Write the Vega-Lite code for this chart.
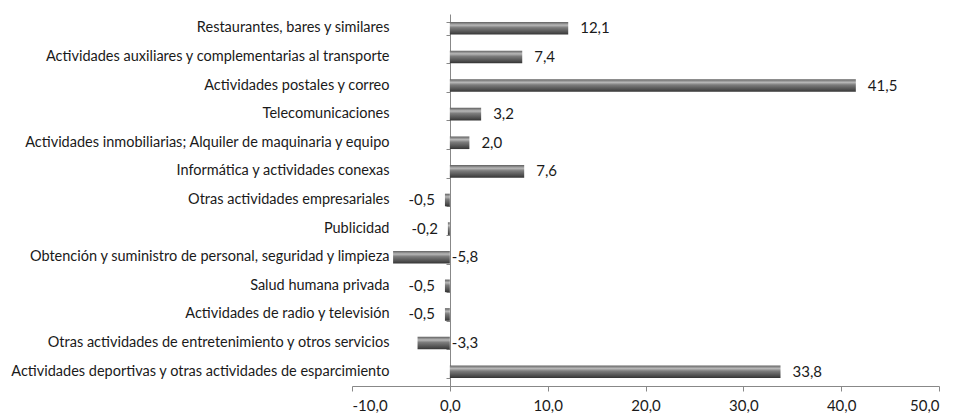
{
  "$schema": "https://vega.github.io/schema/vega-lite/v6.json",
  "autosize": {"type": "none"},
  "width": 587,
  "height": 372,
  "padding": {"left": 352, "top": 14, "right": 22, "bottom": 30},
  "background": "white",
  "config": {
    "view": {"stroke": null},
    "locale": {"number": {"decimal": ",", "thousands": ".", "grouping": [3], "currency": ["", " €"], "minus": "-"}},
    "font": "Lato"
  },
  "data": {
    "values": [
      {"categoria": "Restaurantes, bares y similares", "valor": 12.1},
      {"categoria": "Actividades auxiliares y complementarias al transporte", "valor": 7.4},
      {"categoria": "Actividades postales y correo", "valor": 41.5},
      {"categoria": "Telecomunicaciones", "valor": 3.2},
      {"categoria": "Actividades inmobiliarias; Alquiler de maquinaria y equipo", "valor": 2.0},
      {"categoria": "Informática y actividades conexas", "valor": 7.6},
      {"categoria": "Otras actividades empresariales", "valor": -0.5},
      {"categoria": "Publicidad", "valor": -0.2},
      {"categoria": "Obtención y suministro de personal, seguridad y limpieza", "valor": -5.8},
      {"categoria": "Salud humana privada", "valor": -0.5},
      {"categoria": "Actividades de radio y televisión", "valor": -0.5},
      {"categoria": "Otras actividades de entretenimiento y otros servicios", "valor": -3.3},
      {"categoria": "Actividades deportivas y otras actividades de esparcimiento", "valor": 33.8}
    ]
  },
  "resolve": {"axis": {"y": "independent"}},
  "layer": [
    {
      "mark": {
        "type": "bar",
        "color": {
          "gradient": "linear", "x1": 0, "y1": 0, "x2": 0, "y2": 1,
          "stops": [
            {"offset": 0, "color": "#606060"},
            {"offset": 0.25, "color": "#b8b8b8"},
            {"offset": 0.45, "color": "#7c7c7c"},
            {"offset": 0.85, "color": "#4a4a4a"},
            {"offset": 1, "color": "#333333"}
          ]
        }
      },
      "encoding": {
        "y": {
          "field": "categoria", "type": "nominal", "sort": null,
          "scale": {"paddingInner": 0.56, "paddingOuter": 0.28},
          "axis": {
            "title": null, "orient": "left", "offset": -39, "domain": false, "ticks": false,
            "labelPadding": 2, "labelFontSize": 14.5, "labelColor": "#1a1a1a", "labelFont": "Lato", "labelLimit": 500
          }
        },
        "x": {
          "field": "valor", "type": "quantitative",
          "scale": {"domain": [-10, 50], "nice": false, "zero": false},
          "axis": {
            "title": null, "values": [-10, 0, 10, 20, 30, 40, 50], "format": ".1f", "grid": false,
            "domainColor": "#888888", "tickColor": "#888888", "tickSize": 5, "labelPadding": 7,
            "labelFontSize": 15, "labelColor": "#1a1a1a", "labelFont": "Lato"
          }
        }
      }
    },
    {
      "transform": [{"filter": "datum.valor > -1"}],
      "mark": {"type": "text", "align": {"expr": "datum.valor >= 0 ? 'left' : 'right'"}, "dx": {"expr": "datum.valor >= 0 ? 12 : -10"}, "fontSize": 15, "color": "#1a1a1a", "font": "Lato", "baseline": "middle"},
      "encoding": {
        "y": {
          "field": "categoria", "type": "nominal", "sort": null,
          "axis": {
            "title": null, "orient": "left", "offset": -98, "labels": false, "domain": true,
            "domainColor": "#888888", "ticks": true, "tickBand": "extent", "tickSize": 4, "tickColor": "#888888"
          }
        },
        "x": {"field": "valor", "type": "quantitative"},
        "text": {"field": "valor", "type": "quantitative", "format": ".1f"}
      }
    },
    {
      "transform": [{"filter": "datum.valor <= -1"}],
      "mark": {"type": "text", "align": "left", "dx": 2, "fontSize": 15, "color": "#1a1a1a", "font": "Lato", "baseline": "middle"},
      "encoding": {
        "y": {"field": "categoria", "type": "nominal", "sort": null, "axis": null},
        "x": {"datum": 0, "type": "quantitative"},
        "text": {"field": "valor", "type": "quantitative", "format": ".1f"}
      }
    }
  ]
}
